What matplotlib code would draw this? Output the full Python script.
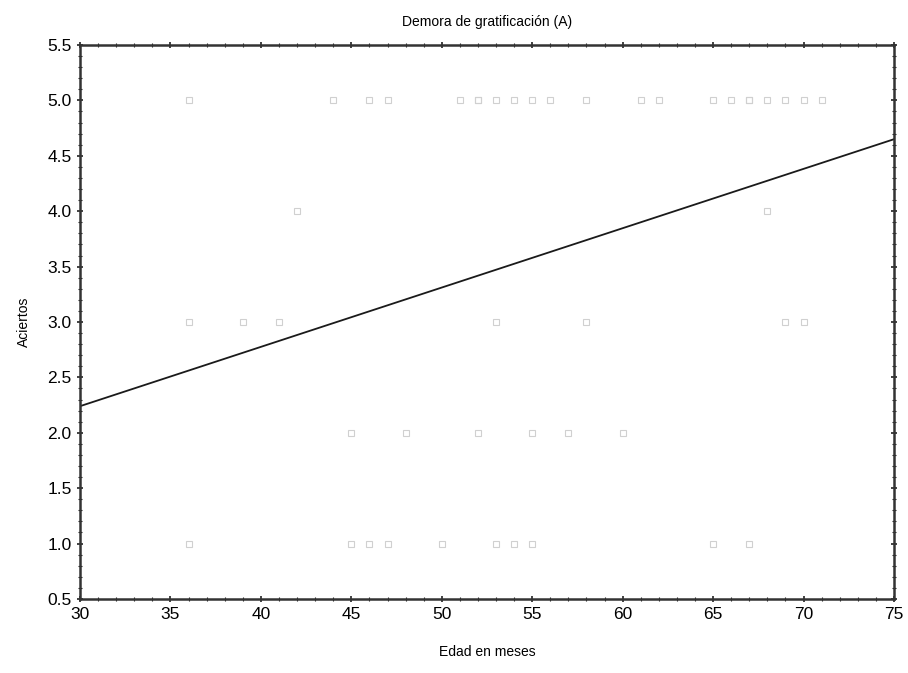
import matplotlib
matplotlib.use("Agg")
import matplotlib.pyplot as plt
from matplotlib.ticker import MultipleLocator
import numpy as np

# --- Data ---
edad_5 = [36, 44, 46, 47, 51, 52, 52, 53, 54, 55, 56, 58, 61, 62, 65, 66, 67, 67, 68, 69, 70, 71]
edad_4 = [42, 68]
edad_3 = [36, 39, 41, 53, 58, 69, 70]
edad_2 = [45, 48, 52, 55, 57, 60]
edad_1 = [36, 45, 46, 47, 50, 53, 54, 55, 65, 67]

# fitted line (read at the axis edges)
fit_x = [30, 75]
fit_y = [2.24, 4.65]

x = np.array(edad_5 + edad_4 + edad_3 + edad_2 + edad_1)
y = np.array([5] * len(edad_5) + [4] * len(edad_4) + [3] * len(edad_3)
             + [2] * len(edad_2) + [1] * len(edad_1))

plt.rcParams["font.family"] = ["Liberation Sans", "DejaVu Sans"]

fig = plt.figure(figsize=(9.08, 6.73), dpi=100)
ax = fig.add_axes([0.0881, 0.110, 0.8965, 0.8231])

ax.plot(x, y, linestyle="none", marker="s", markersize=5,
        markerfacecolor="none", markeredgecolor="#d0d0d0", markeredgewidth=0.8)
ax.plot(fit_x, fit_y, color="#1a1a1a", linewidth=1.3)

ax.set_xlim(30, 75)
ax.set_ylim(0.5, 5.5)
ax.xaxis.set_major_locator(MultipleLocator(5))
ax.xaxis.set_minor_locator(MultipleLocator(1))
ax.yaxis.set_major_locator(MultipleLocator(0.5))
ax.yaxis.set_minor_locator(MultipleLocator(0.1))
ax.yaxis.set_major_formatter(matplotlib.ticker.FormatStrFormatter("%.1f"))

for s in ax.spines.values():
    s.set_linewidth(1.8)
    s.set_color("#333333")

ax.tick_params(which="both", direction="inout", top=True, right=True,
               color="#222222", labelsize=12.5, pad=4)
ax.tick_params(which="major", length=4, width=1.2)
ax.tick_params(which="minor", length=2.5, width=0.8)

ax.set_title("Demora de gratificación (A)", fontsize=10, pad=14)
ax.set_xlabel("Edad en meses", fontsize=10, labelpad=16)
ax.set_ylabel("Aciertos", fontsize=10, labelpad=12)

fig.savefig("out.png", dpi=100)
plt.close(fig)
